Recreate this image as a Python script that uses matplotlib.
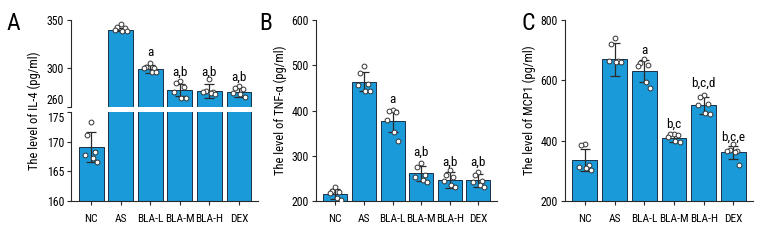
import numpy as np
import matplotlib
matplotlib.use('Agg')
import matplotlib.pyplot as plt
from matplotlib import font_manager

names = {f.name for f in font_manager.fontManager.ttflist}
narrow = [n for n in ['DejaVu Sans Condensed', 'Liberation Sans Narrow', 'Roboto Condensed', 'Open Sans Condensed'] if n in names]
plt.rcParams['font.family'] = narrow + ['DejaVu Sans']
plt.rcParams['font.size'] = 8.5

# ---- data ----
groups = ['NC', 'AS', 'BLA-L', 'BLA-M', 'BLA-H', 'DEX']

il4_mean = [169.1, 340.0, 299.5, 277.5, 276.6, 275.2]
il4_sd = [2.6, 1.8, 4.0, 6.5, 7.0, 4.5]
il4_pts = [
    [173.3, 171.1, 168.2, 167.8, 167.3, 166.5],
    [346.0, 342.5, 341.5, 340.0, 339.0, 338.5],
    [306.0, 301.0, 300.5, 300.0, 296.5, 296.0],
    [287.0, 285.0, 281.0, 276.0, 269.0, 269.0],
    [289.0, 277.0, 276.0, 275.5, 275.0, 273.0],
    [282.0, 280.0, 279.0, 274.0, 273.0, 270.0],
]
il4_sig = ['', '', 'a', 'a,b', 'a,b', 'a,b']
il4_sig_y = [None, None, 316, 296, 296, 291]

tnf_mean = [215.5, 464.0, 377.0, 261.0, 246.0, 246.0]
tnf_sd = [12, 21, 25, 16, 18, 14]
tnf_pts = [
    [231, 223, 220, 217, 207, 203],
    [499, 484, 459, 457, 444, 443],
    [401, 400, 397, 379, 352, 333],
    [285, 276, 258, 254, 246, 243],
    [268, 258, 252, 244, 235, 230],
    [265, 257, 245, 243, 236, 230],
]
tnf_sig = ['', '', 'a', 'a,b', 'a,b', 'a,b']
tnf_sig_y = [None, None, 425, 308, 286, 286]

mcp_mean = [335, 670, 631, 410, 518, 361]
mcp_sd = [37, 54, 38, 13, 28, 22]
mcp_pts = [
    [389, 385, 318, 312, 308, 303],
    [742, 719, 664, 664, 662, 660],
    [671, 657, 651, 648, 596, 574],
    [422, 421, 420, 412, 400, 397],
    [551, 546, 521, 518, 491, 488],
    [388, 370, 367, 365, 363, 320],
]
mcp_sig = ['', '', 'a', 'b,c', 'b,c,d', 'b,c,e']
mcp_sig_y = [None, None, 700, 455, 591, 412]

jitter = [0.0, -0.13, 0.13, -0.2, 0.05, 0.2]

BAR = '#1a9ad8'
EDGE = '#1c2f45'
DARK = '#2a2a2a'


def style(ax):
    for s in ['top', 'right']:
        ax.spines[s].set_visible(False)
    for s in ['left', 'bottom']:
        ax.spines[s].set_color(DARK)
        ax.spines[s].set_linewidth(0.8)
    ax.tick_params(length=3, width=0.8, color=DARK, labelsize=8.5, pad=2)
    ax.tick_params(axis='x', labelsize=8.2, pad=6)


def draw(ax, mean, sd, pts, bottom):
    x = np.arange(len(groups))
    ax.bar(x, np.array(mean) - bottom, bottom=bottom, width=0.84,
           color=BAR, edgecolor=EDGE, linewidth=0.7, zorder=2)
    ax.errorbar(x, mean, yerr=sd, fmt='none', ecolor=DARK, elinewidth=0.9,
                capsize=3.5, capthick=0.9, zorder=3)
    for i, p in enumerate(pts):
        xs = [i + jitter[k] for k in range(len(p))]
        ax.scatter(xs, p, s=12, facecolor='white', edgecolor='#333333',
                   linewidth=0.7, zorder=4)
    ax.set_xlim(-0.68, 5.65)
    ax.set_xticks(x)


def annotate(ax, sig, sig_y):
    for i, (t, yy) in enumerate(zip(sig, sig_y)):
        if t:
            ax.text(i, yy, t, ha='center', va='center', fontsize=9.5)


fig = plt.figure(figsize=(7.8, 2.4), dpi=100)

# Panel A: broken axis
axA1 = fig.add_axes([0.091, 0.554, 0.24, 0.363])
axA2 = fig.add_axes([0.091, 0.1625, 0.24, 0.371])
for ax in (axA1, axA2):
    draw(ax, il4_mean, il4_sd, il4_pts, 160)
    style(ax)
axA1.set_ylim(260, 350)
axA1.set_yticks([260, 300, 350])
axA1.spines['bottom'].set_visible(False)
axA1.tick_params(axis='x', bottom=False, labelbottom=False)
axA2.set_ylim(160, 175)
axA2.set_yticks([160, 165, 170, 175])
axA2.set_xticklabels(groups)
fig.canvas.draw()
axA1.get_yticklabels()[0].set_va('bottom')
axA2.get_yticklabels()[-1].set_va('top')
annotate(axA1, il4_sig, il4_sig_y)
fig.text(0.044, 0.54, 'The level of IL-4 (pg/ml)', rotation=90,
         ha='center', va='center', fontsize=9)
fig.text(0.008, 0.9, 'A', fontsize=17, va='center')

# Panel B
axB = fig.add_axes([0.405, 0.1625, 0.232, 0.754])
draw(axB, tnf_mean, tnf_sd, tnf_pts, 200)
style(axB)
axB.set_ylim(200, 600)
axB.set_yticks([200, 300, 400, 500, 600])
axB.set_xticklabels(groups)
axB.set_ylabel('The level of TNF-α (pg/ml)', fontsize=9, labelpad=3)
annotate(axB, tnf_sig, tnf_sig_y)
fig.text(0.333, 0.9, 'B', fontsize=17, va='center')

# Panel C
axC = fig.add_axes([0.724, 0.1625, 0.241, 0.754])
draw(axC, mcp_mean, mcp_sd, mcp_pts, 200)
style(axC)
axC.set_ylim(200, 800)
axC.set_yticks([200, 400, 600, 800])
axC.set_xticklabels(groups)
axC.set_ylabel('The level of MCP1 (pg/ml)', fontsize=9, labelpad=3)
annotate(axC, mcp_sig, mcp_sig_y)
fig.text(0.668, 0.9, 'C', fontsize=17, va='center')

fig.savefig('out.png', dpi=100)
